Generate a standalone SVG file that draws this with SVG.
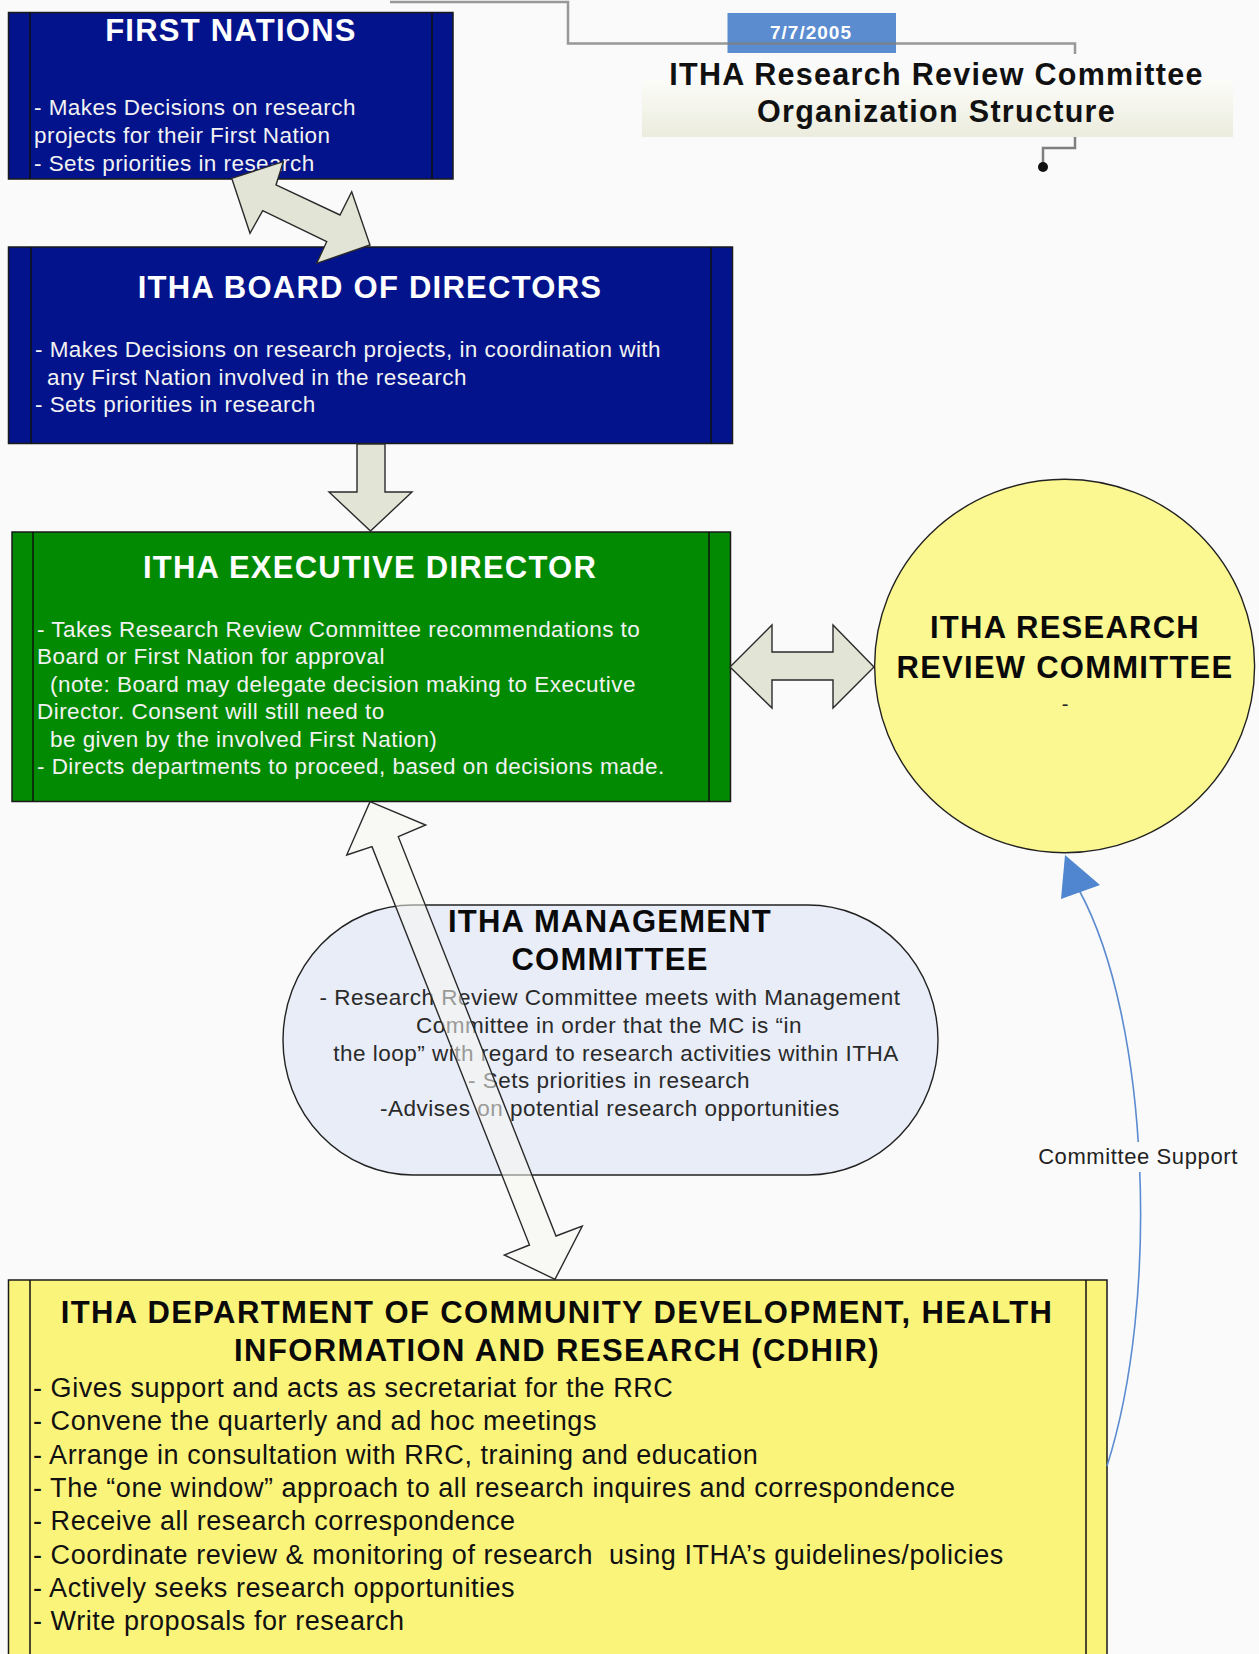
<svg xmlns="http://www.w3.org/2000/svg" width="1259" height="1654" viewBox="0 0 1259 1654">
<defs>
<style>
text{font-family:"Liberation Sans",Arial,sans-serif}
.h{font-weight:bold;font-size:31px;letter-spacing:1.25px;text-anchor:middle}
.b{font-size:22.5px;letter-spacing:0.45px}
.mb{font-size:22.5px;letter-spacing:0.5px;text-anchor:middle;fill:#2a2a2a}
.l{font-size:27px;letter-spacing:0.55px;fill:#111}
.wt{fill:#ffffff}
.wb{fill:#f2f2f2}
.kt{fill:#0a0a0a}
.box{stroke:#1a1a1a;stroke-width:1.5}
.inner{stroke:#111;stroke-width:1.5}
.blue{fill:#03138c}
.green{fill:#028a02}
.fat{fill:#e2e4d5;stroke:#2a2a2a;stroke-width:1.4;stroke-linejoin:miter}
.bracket{fill:none;stroke:#7f7f7f;stroke-width:2.5}
</style>
<linearGradient id="tbg" x1="0" y1="0" x2="0" y2="1">
<stop offset="0" stop-color="#fcfcf9"/>
<stop offset="1" stop-color="#ebecdc"/>
</linearGradient>
</defs>
<rect x="0" y="0" width="1259" height="1654" fill="#fafafa"/>

<g id="title">
<rect x="642" y="80" width="591" height="57" fill="url(#tbg)"/>
<rect x="727.5" y="13" width="168.5" height="40" fill="#5b8cd0"/>
<polyline class="bracket" points="390,2 568,2 568,43.5 1075,43.5 1075,54" opacity="0.8"/>
<polyline class="bracket" points="1075,137 1075,148 1043,148 1043,167"/>
<circle cx="1043" cy="167" r="5" fill="#111"/>
<text x="811" y="39" style="font-weight:bold;font-size:19px;letter-spacing:1px;text-anchor:middle;fill:#fff">7/7/2005</text>
<text x="936.5" y="85" style="font-weight:bold;font-size:30.5px;letter-spacing:1.3px;text-anchor:middle;fill:#111">ITHA Research Review Committee</text>
<text x="936.5" y="122" style="font-weight:bold;font-size:30.5px;letter-spacing:1.3px;text-anchor:middle;fill:#111">Organization Structure</text>
</g>

<g id="node-first-nations">
<rect class="box blue" x="8.5" y="12.5" width="444.5" height="166.5"/>
<line class="inner" x1="30" y1="12.5" x2="30" y2="179"/>
<line class="inner" x1="432" y1="12.5" x2="432" y2="179"/>
<text class="h wt" x="231" y="41">FIRST NATIONS</text>
<text class="b wb" x="34" y="114.5">- Makes Decisions on research</text>
<text class="b wb" x="34" y="143">projects for their First Nation</text>
<text class="b wb" x="34" y="170.5">- Sets priorities in research</text>
</g>

<g id="node-board">
<rect class="box blue" x="8.5" y="247" width="724" height="196.5"/>
<line class="inner" x1="31" y1="247" x2="31" y2="443.5"/>
<line class="inner" x1="711" y1="247" x2="711" y2="443.5"/>
<text class="h wt" x="370" y="298">ITHA BOARD OF DIRECTORS</text>
<text class="b wb" x="35" y="357">- Makes Decisions on research projects, in coordination with</text>
<text class="b wb" x="47" y="384.5">any First Nation involved in the research</text>
<text class="b wb" x="35" y="412">- Sets priorities in research</text>
</g>

<g id="node-executive-director">
<rect class="box green" x="12" y="532" width="718.5" height="269.5"/>
<line class="inner" x1="33" y1="532" x2="33" y2="801.5"/>
<line class="inner" x1="709" y1="532" x2="709" y2="801.5"/>
<text class="h wt" x="370" y="578">ITHA EXECUTIVE DIRECTOR</text>
<text class="b wb" x="37" y="636.7">- Takes Research Review Committee recommendations to</text>
<text class="b wb" x="37" y="664">Board or First Nation for approval</text>
<text class="b wb" x="50" y="691.7">(note: Board may delegate decision making to Executive</text>
<text class="b wb" x="37" y="719.3">Director. Consent will still need to</text>
<text class="b wb" x="50" y="746.7">be given by the involved First Nation)</text>
<text class="b wb" x="37" y="774.3">- Directs departments to proceed, based on decisions made.</text>
</g>

<g id="node-rrc">
<ellipse cx="1064.6" cy="666" rx="190" ry="186.7" fill="#fcf891" stroke="#222" stroke-width="1.4"/>
<text class="h kt" x="1065" y="638">ITHA RESEARCH</text>
<text class="h kt" x="1065" y="678">REVIEW COMMITTEE</text>
<text x="1065" y="711" style="font-size:20px;text-anchor:middle;fill:#222">-</text>
</g>

<g id="node-management-committee">
<rect x="283" y="905" width="655" height="270" rx="130" ry="135" fill="#e8edf8" stroke="#222" stroke-width="1.4"/>
<text class="h kt" x="610" y="932">ITHA MANAGEMENT</text>
<text class="h kt" x="610" y="970">COMMITTEE</text>
<text class="mb" x="610" y="1005">- Research Review Committee meets with Management</text>
<text class="mb" x="609" y="1032.7">Committee in order that the MC is “in</text>
<text class="mb" x="616" y="1060.7">the loop” with regard to research activities within ITHA</text>
<text class="mb" x="609" y="1088.3">- Sets priorities in research</text>
<text class="mb" x="610" y="1116">-Advises on potential research opportunities</text>
</g>

<g id="node-cdhir">
<rect x="8.5" y="1280" width="1098.5" height="390" fill="#fbf47b" stroke="#1a1a1a" stroke-width="1.5"/>
<line class="inner" x1="30" y1="1280" x2="30" y2="1660"/>
<line class="inner" x1="1086" y1="1280" x2="1086" y2="1660"/>
<text class="h kt" x="557" y="1323" style="letter-spacing:1.4px">ITHA DEPARTMENT OF COMMUNITY DEVELOPMENT, HEALTH</text>
<text class="h kt" x="557" y="1361" style="letter-spacing:1.4px">INFORMATION AND RESEARCH (CDHIR)</text>
<text class="l" x="33" y="1397">- Gives support and acts as secretariat for the RRC</text>
<text class="l" x="33" y="1430">- Convene the quarterly and ad hoc meetings</text>
<text class="l" x="33" y="1463.5">- Arrange in consultation with RRC, training and education</text>
<text class="l" x="33" y="1497">- The “one window” approach to all research inquires and correspondence</text>
<text class="l" x="33" y="1530">- Receive all research correspondence</text>
<text class="l" x="33" y="1563.5" xml:space="preserve">- Coordinate review &amp; monitoring of research  using ITHA’s guidelines/policies</text>
<text class="l" x="33" y="1597">- Actively seeks research opportunities</text>
<text class="l" x="33" y="1630">- Write proposals for research</text>
</g>

<g id="connectors">
<polygon class="fat" points="231.7,178.3 283.3,161.7 276,185 340,215 351.7,191.7 370,245 316.7,263.3 326.7,241.7 262.7,210.7 250,233.3"/>
<polygon class="fat" points="357,444 385,444 385,492 412,492 370.5,531 329,492 357,492"/>
<polygon class="fat" points="730,667 772,625 772,652 833,652 833,625 874,667 833,708 833,680 772,680 772,708"/>
<polygon points="370,801.7 425.7,825 398.3,836.7 556,1236 582.3,1226 555,1279.3 504.3,1255 529.5,1245 372,846.7 346.7,855" fill="#f6f6f1" fill-opacity="0.55" stroke="#2a2a2a" stroke-width="1.4"/>
<path d="M1107,1466 C1160,1300 1150,1020 1079,890" fill="none" stroke="#5b8bd0" stroke-width="1.6"/>
<polygon points="1065,855 1061,899 1100,885" fill="#4f86cf"/>
<rect x="1034" y="1142" width="208" height="30" fill="#fafafa"/>
<text x="1138" y="1164" style="font-size:22px;letter-spacing:0.6px;text-anchor:middle;fill:#222">Committee Support</text>
</g>
</svg>
